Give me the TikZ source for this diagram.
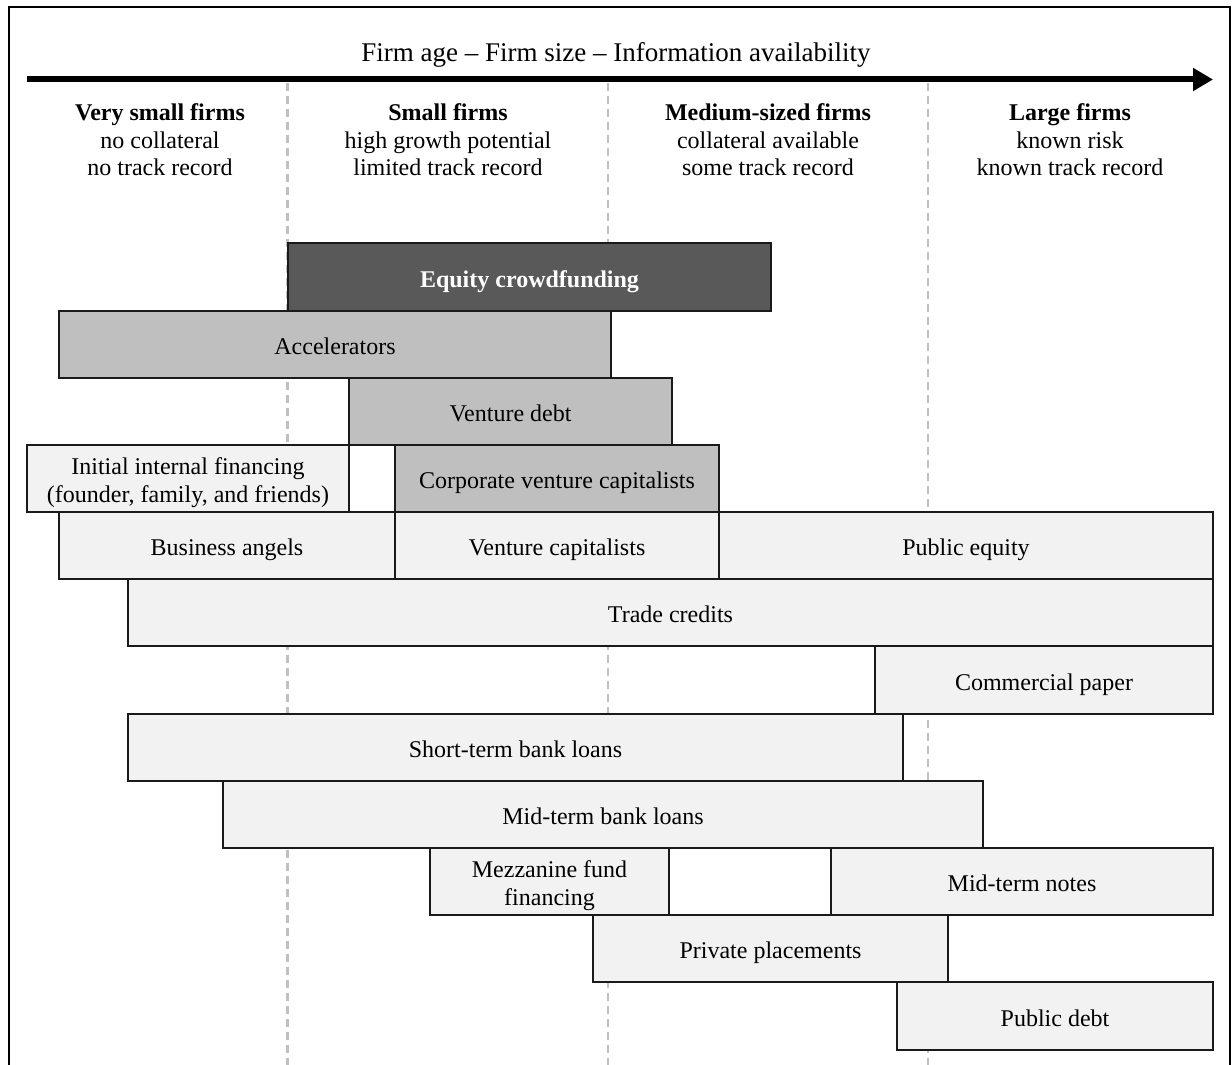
\documentclass[tikz,border=0pt]{standalone}
\usepackage{fontspec}
\setmainfont{Liberation Serif}
\usetikzlibrary{arrows.meta}
\definecolor{lightfill}{HTML}{F2F2F2}
\definecolor{midfill}{HTML}{BFBFBF}
\definecolor{darkfill}{HTML}{595959}
\definecolor{guidegray}{HTML}{C0C0C0}
\definecolor{edgecol}{HTML}{1A1A1A}
\tikzset{
  fbase/.style={draw=edgecol, line width=1pt, inner sep=0pt, outer sep=0pt, align=center,
    font=\fontsize{12}{13.8}\selectfont, text=black, text height=12pt, text depth=2pt},
  lightbox/.style={fbase, fill=lightfill},
  midbox/.style={fbase, fill=midfill},
  darkbox/.style={fbase, fill=darkfill, text=white, font=\fontsize{12}{13.8}\selectfont\bfseries},
  header/.style={align=center, inner sep=0pt, font=\fontsize{12}{13.8}\selectfont},
  guide/.style={draw=guidegray, line width=1.3pt, dash pattern=on 4pt off 2.5pt},
  axisarrow/.style={line width=3pt, -{Triangle[length=10pt,width=11pt]}},
  framestyle/.style={line width=1pt, draw=black}
}
\begin{document}
\begin{tikzpicture}[x=0.5pt, y=-0.5pt]
\useasboundingbox (0,0) rectangle (1232,1065);
% frame
\coordinate (fBL) at (9,1066);
\coordinate (fTL) at (9,7);
\coordinate (fTR) at (1230,7);
\coordinate (fBR) at (1230,1066);
\draw[framestyle] (fBL) -- (fTL) -- (fTR) -- (fBR);
% guides
\coordinate (g1t) at (287.5,83); \coordinate (g1b) at (287.5,1065);
\coordinate (g2t) at (608,83);   \coordinate (g2b) at (608,1065);
\coordinate (g3t) at (928,83);   \coordinate (g3b) at (928,1065);
\draw[guide] (g1t) -- (g1b);
\draw[guide] (g2t) -- (g2b);
\draw[guide] (g3t) -- (g3b);
% axis
\node[header, font=\fontsize{13.5}{15}\selectfont] (title) at (616,55) {Firm age -- Firm size -- Information availability};
\coordinate (axL) at (27,79.5);
\coordinate (axR) at (1213,79.5);
\draw[axisarrow] (axL) -- (axR);
% headers
\node[header] (h1) at (160,140) {\textbf{Very small firms}\\no collateral\\no track record};
\node[header] (h2) at (448,140) {\textbf{Small firms}\\high growth potential\\limited track record};
\node[header] (h3) at (768,140) {\textbf{Medium-sized firms}\\collateral available\\some track record};
\node[header] (h4) at (1070,140) {\textbf{Large firms}\\known risk\\known track record};
% boxes
\node[darkbox, minimum width=241.5pt, minimum height=34pt] (eq) at (529.5,277) {Equity crowdfunding};
\node[midbox, minimum width=276pt, minimum height=33.5pt] (acc) at (335,344.5) {Accelerators};
\node[midbox, minimum width=161.5pt, minimum height=33.5pt] (vd) at (510.5,411.5) {Venture debt};
\node[lightbox, minimum width=161pt, minimum height=33.5pt] (init) at (188,478.5) {};
\node[header] (initt) at ([yshift=-2pt]init.center) {Initial internal financing\\(founder, family, and friends)};
\node[midbox, minimum width=162pt, minimum height=33.5pt] (cvc) at (557,478.5) {Corporate venture capitalists};
\node[lightbox, minimum width=168pt, minimum height=33.5pt] (ba) at (227,545.5) {Business angels};
\node[lightbox, minimum width=162pt, minimum height=33.5pt] (vc) at (557,545.5) {Venture capitalists};
\node[lightbox, minimum width=247pt, minimum height=33.5pt] (pe) at (966,545.5) {Public equity};
\node[lightbox, minimum width=542.5pt, minimum height=33.5pt] (tc) at (670.5,612.5) {Trade credits};
\node[lightbox, minimum width=169pt, minimum height=34pt] (cp) at (1044,680) {Commercial paper};
\node[lightbox, minimum width=387.5pt, minimum height=33.5pt] (st) at (515.5,747.5) {Short-term bank loans};
\node[lightbox, minimum width=380pt, minimum height=33.5pt] (mt) at (603,814.5) {Mid-term bank loans};
\node[lightbox, minimum width=119.5pt, minimum height=33.5pt] (mz) at (549.5,881.5) {};
\node[header] (mzt) at ([yshift=-2pt]mz.center) {Mezzanine fund\\financing};
\node[lightbox, minimum width=191pt, minimum height=33.5pt] (mn) at (1022,881.5) {Mid-term notes};
\node[lightbox, minimum width=177.5pt, minimum height=33.5pt] (pp) at (770.5,948.5) {Private placements};
\node[lightbox, minimum width=158pt, minimum height=34pt] (pd) at (1055,1016) {Public debt};
\end{tikzpicture}
\end{document}
